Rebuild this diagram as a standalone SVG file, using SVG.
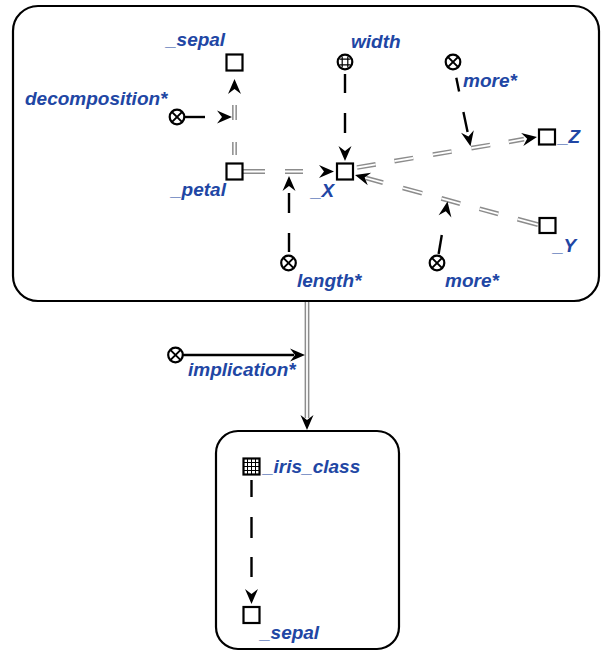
<svg xmlns="http://www.w3.org/2000/svg" xmlns:xlink="http://www.w3.org/1999/xlink" width="603" height="652" viewBox="0 0 603 652">
<style>
.box{fill:none;stroke:#000;stroke-width:2.2}
.sq{fill:#fff;stroke:#000;stroke-width:2.2}
.lbl{font-family:"Liberation Sans",Arial,sans-serif;font-size:19px;font-weight:bold;font-style:italic;fill:#2146a4}
.dblo{fill:none;stroke:#8c8c8c;stroke-width:4.8}
.dbli{fill:none;stroke:#fff;stroke-width:1.8}
.blk{fill:none;stroke:#000;stroke-width:2.4}
</style>
<defs>
<path id="ah" d="M0,0 L-15,-6.5 L-10,0 L-15,6.5 Z" fill="#000"/>
<g id="ox"><circle r="7.3" fill="#fff" stroke="#000" stroke-width="2.2"/><path d="M-4.9,-4.9 L4.9,4.9 M-4.9,4.9 L4.9,-4.9" stroke="#000" stroke-width="2"/></g>
<g id="globe"><circle r="7.3" fill="#fff" stroke="#000" stroke-width="2.2"/><path d="M-2.8,-5.5 V5.5 M2.8,-5.5 V5.5 M-5.5,-2.8 H5.5 M-5.5,2.8 H5.5" stroke="#000" stroke-width="1.2"/></g>
</defs>
<rect width="603" height="652" fill="#fff"/>

<g id="outer-box"><rect class="box" x="13" y="6" width="586" height="295" rx="25"/></g>
<g id="inner-box"><rect class="box" x="216" y="431" width="183" height="218" rx="22"/></g>

<g id="connectors">
  <!-- petal -> sepal -->
  <path class="dblo" d="M234.5,155 V142 M234.5,120 V105"/>
  <path class="dbli" d="M234.5,155 V142 M234.5,120 V105"/>
  <use xlink:href="#ah" transform="translate(234.5,79) rotate(-90)"/>
  <!-- decomposition -->
  <path class="blk" d="M184,117 H205"/>
  <use xlink:href="#ah" transform="translate(232,117)"/>
  <!-- petal -> X -->
  <path class="dblo" d="M243,171.5 H265 M285,171.5 H303"/>
  <path class="dbli" d="M243,171.5 H265 M285,171.5 H303"/>
  <use xlink:href="#ah" transform="translate(334,171.5)"/>
  <!-- length -->
  <path class="blk" d="M289,252 V233 M289,213 V193"/>
  <use xlink:href="#ah" transform="translate(289,176) rotate(-90)"/>
  <!-- width -> X -->
  <path class="blk" d="M345,74 V93 M345,113 V133"/>
  <use xlink:href="#ah" transform="translate(345,161) rotate(90)"/>
  <!-- X -> Z -->
  <path class="dblo" d="M357,167.5 L375.7,164.3 M394.4,161.2 L413.2,158 M432.9,154.6 L451.6,151.5 M471.3,148.1 L490.1,145 M508.8,141.8 L524,139.2"/>
  <path class="dbli" d="M357,167.5 L375.7,164.3 M394.4,161.2 L413.2,158 M432.9,154.6 L451.6,151.5 M471.3,148.1 L490.1,145 M508.8,141.8 L524,139.2"/>
  <use xlink:href="#ah" transform="translate(537,137) rotate(-9.6)"/>
  <!-- more (top) -->
  <path class="blk" d="M456.3,77.7 L459.1,91.4 M463.4,111.9 L467.6,132"/>
  <use xlink:href="#ah" transform="translate(470.5,146.2) rotate(78.2)"/>
  <!-- Y -> X -->
  <path class="dblo" d="M366,178 L383,182.6 M402.8,188 L422.1,193.2 M441.4,198.4 L460.2,203.6 M479.5,208.8 L498.3,213.9 M517.6,219.1 L538,224.6"/>
  <path class="dbli" d="M366,178 L383,182.6 M402.8,188 L422.1,193.2 M441.4,198.4 L460.2,203.6 M479.5,208.8 L498.3,213.9 M517.6,219.1 L538,224.6"/>
  <use xlink:href="#ah" transform="translate(355,175) rotate(195.2)"/>
  <!-- more (bottom) -->
  <path class="blk" d="M438.6,254 L441.8,235"/>
  <use xlink:href="#ah" transform="translate(447.5,201.5) rotate(-80.3)"/>
  <!-- outer -> inner -->
  <path class="dblo" d="M307,302 V418"/>
  <path class="dbli" d="M307,302 V418"/>
  <use xlink:href="#ah" transform="translate(307,430) rotate(90)"/>
  <!-- implication -->
  <path class="blk" d="M183,355 H294"/>
  <use xlink:href="#ah" transform="translate(305,355)"/>
  <!-- iris_class -> sepal -->
  <path class="blk" d="M251.5,480 V497 M251.5,517 V538 M251.5,557 V577"/>
  <use xlink:href="#ah" transform="translate(251.5,604) rotate(90)"/>
</g>

<g id="node-sepal-top"><rect class="sq" x="226.5" y="54.5" width="16" height="16"/><text class="lbl" x="166" y="46">_sepal</text></g>
<g id="node-width"><use xlink:href="#globe" x="345" y="62"/><text class="lbl" x="351" y="48">width</text></g>
<g id="node-more-top"><use xlink:href="#ox" x="453" y="62"/><text class="lbl" x="463" y="87">more*</text></g>
<g id="node-decomposition"><use xlink:href="#ox" x="177" y="117"/><text class="lbl" x="25" y="105">decomposition*</text></g>
<g id="node-petal"><rect class="sq" x="226.5" y="163.5" width="16" height="16"/><text class="lbl" x="171" y="196">_petal</text></g>
<g id="node-X"><rect class="sq" x="337" y="163.5" width="16" height="16"/><text class="lbl" x="311" y="197">_X</text></g>
<g id="node-Z"><rect class="sq" x="539" y="129.5" width="16" height="15"/><text class="lbl" x="558" y="143">_Z</text></g>
<g id="node-Y"><rect class="sq" x="539.5" y="218" width="16" height="15"/><text class="lbl" x="553" y="252">_Y</text></g>
<g id="node-length"><use xlink:href="#ox" x="288.5" y="263"/><text class="lbl" x="297" y="287">length*</text></g>
<g id="node-more-bottom"><use xlink:href="#ox" x="437" y="263"/><text class="lbl" x="445" y="287">more*</text></g>
<g id="node-implication"><use xlink:href="#ox" x="175.5" y="355"/><text class="lbl" x="188" y="376">implication*</text></g>
<g id="node-iris-class"><rect class="sq" x="243.5" y="458.5" width="16" height="16"/><path d="M247.5,458.5 V474.5 M251.5,458.5 V474.5 M255.5,458.5 V474.5 M243.5,462.5 H259.5 M243.5,466.5 H259.5 M243.5,470.5 H259.5" stroke="#000" stroke-width="1"/><text class="lbl" x="263" y="473">_iris_class</text></g>
<g id="node-sepal-bottom"><rect class="sq" x="243.5" y="607" width="16" height="16"/><text class="lbl" x="260" y="639">_sepal</text></g>
</svg>
